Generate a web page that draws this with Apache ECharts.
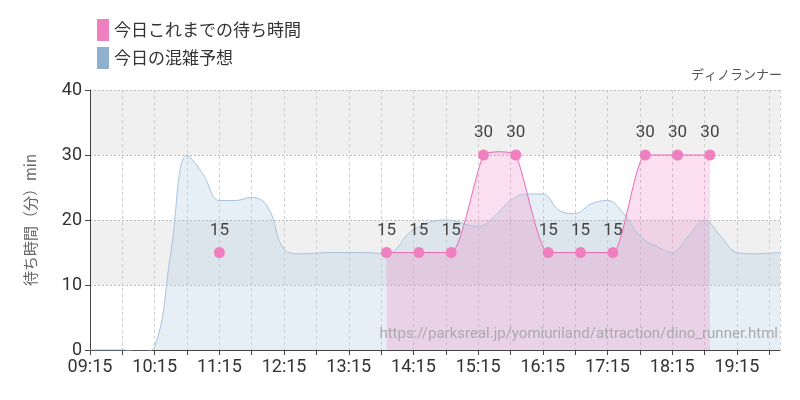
<!DOCTYPE html>
<html><head><meta charset="utf-8">
<script src="https://cdn.jsdelivr.net/npm/echarts@6/dist/echarts.min.js"></script>
<style>html,body{margin:0;padding:0;background:#fff}#c{width:800px;height:400px}</style>
</head><body><div id="c"></div>
<script>
const forecastTimes = ['09:15','09:45','10:00','10:15','10:30','10:45','11:00','11:15','11:30','11:45','12:00','12:15','12:30','13:00','13:30','13:50','14:15','14:45','15:15','15:30','15:45','16:00','16:15','16:30','16:45','17:00','17:15','17:30','17:45','18:00','18:15','18:30','18:45','19:00','19:15','19:30','19:55'];
const forecastValues = [0,0,-0.3,0.5,15,30,27,23,23,23.5,22,15.5,14.8,15,15,14.8,18.5,20,19,20.5,23,24,24,21.5,21,22.5,23,21,17.5,16,15,17.5,20,17.5,15,14.8,15];
const actualTimes = ['11:15','12:00','13:50','14:20','14:50','15:20','15:35','15:50','16:20','16:50','17:20','17:50','18:20','18:50'];
const actualValues = [15,null,15,15,15,30,30.5,30,15,15,15,30,30,30];
const actualLabels = [true,false,true,true,true,true,false,true,true,true,true,true,true,true];
const yTicks = [0,10,20,30,40];
const toMin = t => { const [h,m] = t.split(':').map(Number); return h*60+m-555; };
const fmt = v => { const t=v+555; return String(Math.floor(t/60)).padStart(2,'0')+':'+String(t%60).padStart(2,'0'); };
const chart = echarts.init(document.getElementById('c'));
const F = 'Roboto, sans-serif';
chart.setOption({
  animation:false,
  textStyle:{fontFamily:F},
  legend:{orient:'vertical',left:92,top:14,itemGap:6,itemWidth:12,itemHeight:22,icon:'rect',
    textStyle:{fontSize:17,color:'#333',fontFamily:'Noto Sans CJK JP'},
    data:['今日これまでの待ち時間','今日の混雑予想']},
  graphic:[
    {type:'text',right:18,top:68,style:{text:'ディノランナー',fontSize:13,fill:'#555',fontFamily:'Noto Sans CJK JP'}},
    {type:'text',right:22,top:327,z:100,style:{text:'https://parksreal.jp/yomiuriland/attraction/dino_runner.html',fontSize:15,fill:'#aaa',fontFamily:F}}
  ],
  grid:{left:90,right:20,top:90,bottom:50},
  xAxis:{type:'value',min:0,max:640,interval:30,
    axisLine:{show:true,lineStyle:{color:'#444'}},
    axisTick:{show:true,lineStyle:{color:'#444'}},
    axisLabel:{fontSize:18,color:'#333',showMaxLabel:false,formatter:v=> v%60===0?fmt(v):''},
    splitLine:{show:true,lineStyle:{type:[3,3],color:'#ccc'}}},
  yAxis:{type:'value',min:0,max:40,interval:10,
    name:'待ち時間（分）min',nameLocation:'middle',nameGap:52,nameRotate:90,
    nameTextStyle:{fontSize:15,color:'#666',fontFamily:'Noto Sans CJK JP'},
    axisLine:{show:true,lineStyle:{color:'#444'}},
    axisTick:{show:true},
    axisLabel:{fontSize:18,color:'#333',formatter:v=>yTicks.includes(v)?String(v):''},
    splitLine:{show:true,lineStyle:{type:[2,2],color:'#bbb'}},
    splitArea:{show:true,areaStyle:{color:['#fff','#f0f0f0']}}},
  series:[
    {name:'今日の混雑予想',type:'line',smooth:0.4,symbol:'none',
      itemStyle:{color:'#8fb0cf'},
      lineStyle:{color:'#a8c2dc',width:1},
      areaStyle:{color:'rgba(180,205,228,0.45)'},
      data:forecastTimes.map((t,i)=>[toMin(t),forecastValues[i]])},
    {name:'今日これまでの待ち時間',type:'line',smooth:0.2,symbol:'circle',symbolSize:11,
      connectNulls:false,
      itemStyle:{color:'#f07fc0'},
      lineStyle:{color:'#e86ab5',width:1},
      areaStyle:{color:'rgba(240,120,190,0.35)'},
      label:{show:true,position:'top',distance:8,fontSize:17,color:'#444'},
      data:actualTimes.map((t,i)=>({value:[toMin(t),actualValues[i]===null?'-':actualValues[i]],
        symbolSize:actualLabels[i]?11:0,label:{show:actualLabels[i]}}))}
  ]
});
</script></body></html>
